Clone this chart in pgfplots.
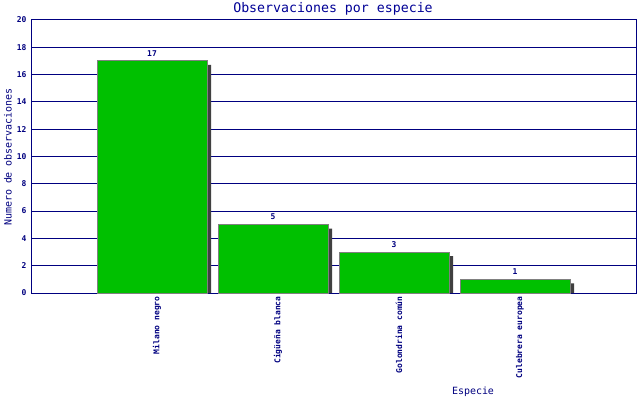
\documentclass[border=0pt]{standalone}
\usepackage{pgfplots}
\pgfplotsset{compat=1.18}
\usepackage{fontspec}
\setmainfont{DejaVu Sans Mono}
\definecolor{navyc}{RGB}{0,0,128}
\definecolor{titlec}{RGB}{0,0,150}
\definecolor{barg}{RGB}{0,192,0}
\definecolor{bard}{RGB}{128,128,128}
\definecolor{shad}{RGB}{64,64,64}
\begin{document}
\begin{tikzpicture}[x=1bp,y=1bp]
\useasboundingbox[fill=white] (0,0) rectangle (640,400);
\begin{axis}[
  at={(31bp,107bp)}, anchor=south west,
  scale only axis, width=605bp, height=273bp,
  xmin=0, xmax=5, ymin=0, ymax=20,
  axis line style={navyc, line width=1bp},
  ytick={0,2,...,20},
  xtick={1,2,3,4},
  xticklabels={Milano negro,Cigüeña blanca,Golondrina común,Culebrera europea},
  major tick length=0pt,
  ymajorgrids, grid style={navyc, line width=1bp},
  tick label style={text=navyc, font=\fontsize{8}{8}\selectfont\bfseries},
  yticklabel style={xshift=-1bp},
  xticklabel style={rotate=90, anchor=east, yshift=-5bp},
  /pgf/number format/assume math mode=true,
  clip=false,
]
\addplot[ybar, bar width=110bp, bar shift=4bp, fill=shad, draw=none]
  coordinates {(1,16.71) (2,4.71) (3,2.71) (4,0.71)};
\addplot[ybar, bar width=110bp, bar shift=0bp, fill=barg, draw=bard, line width=1bp,
  nodes near coords, every node near coord/.append style={text=navyc, font=\fontsize{8}{8}\selectfont\bfseries, yshift=1bp}]
  coordinates {(1,17) (2,5) (3,3) (4,1)};
\end{axis}
\node[text=titlec, font=\fontsize{13.3}{14}\selectfont] at (333,391) {Observaciones por especie};
\node[text=navyc, font=\fontsize{10}{10}\selectfont] at (473,8) {Especie};
\node[text=navyc, font=\fontsize{10}{10}\selectfont, rotate=90] at (8,243) {Numero de observaciones};
\end{tikzpicture}
\end{document}
